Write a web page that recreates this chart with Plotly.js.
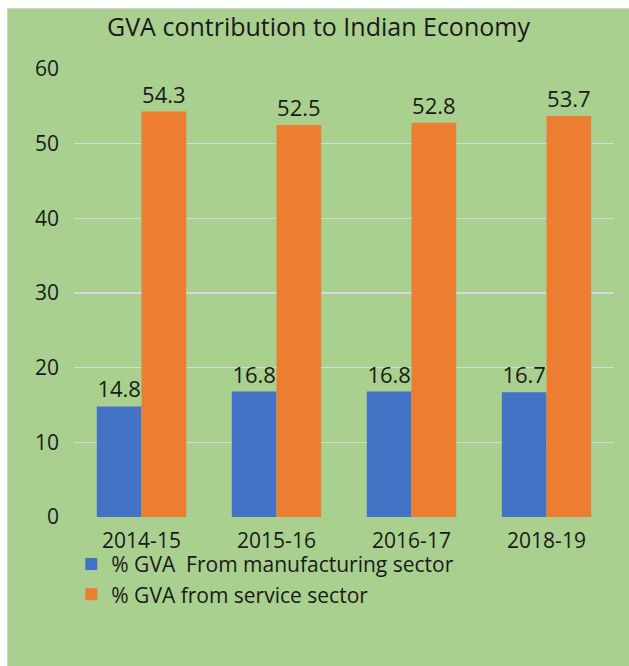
<!DOCTYPE html>
<html><head><meta charset="utf-8">
<script src="https://cdn.plot.ly/plotly-3.0.1.min.js"></script>
<style>
html,body{margin:0;padding:0;background:#fff;}
#wrap{position:absolute;left:7px;top:8px;width:622px;height:658px;border-left:1px solid #d0d0d0;border-top:1px solid #d0d0d0;box-sizing:border-box;}
#chart{width:621px;height:657px;}
</style></head>
<body><div id="wrap"><div id="chart"></div></div>
<script>
const categories = ["2014-15", "2015-16", "2016-17", "2018-19"];
const manufacturing = [14.8, 16.8, 16.8, 16.7];
const service = [54.3, 52.5, 52.8, 53.7];
const seriesNames = ["% GVA  From manufacturing sector", "% GVA from service sector"];
const yTicks = [0, 10, 20, 30, 40, 50, 60];

const font = "'Open Sans', 'Noto Sans', sans-serif";
const bg = "#A9D08E";
const ink = "#1a1a1a";
const traces = [
  {type:"bar", x:categories, y:manufacturing, name:seriesNames[0], marker:{color:"#4472C4"},
   text:manufacturing.map(v=>v.toFixed(1)), textposition:"outside", cliponaxis:false,
   textfont:{size:22,color:ink,family:font}},
  {type:"bar", x:categories, y:service, name:seriesNames[1], marker:{color:"#ED7D31"},
   text:service.map(v=>v.toFixed(1)), textposition:"outside", cliponaxis:false,
   textfont:{size:22,color:ink,family:font}}
];
const layout = {
  width:621, height:657,
  paper_bgcolor:bg, plot_bgcolor:bg,
  margin:{l:66, r:15, t:60, b:149},
  title:{text:"GVA contribution to Indian Economy", font:{size:25,color:ink,family:font}, x:0.5, xanchor:"center", y:0.973, yanchor:"middle"},
  barmode:"group", bargap:0.338, bargroupgap:0,
  font:{family:font,color:ink},
  xaxis:{tickfont:{size:21,color:ink}, showgrid:false, showline:false, ticks:"", ticklabelstandoff:9},
  yaxis:{range:[0,60], tickvals:yTicks, showgrid:true, gridcolor:"#D9D9D9", gridwidth:1.5,
    zeroline:true, zerolinecolor:bg, zerolinewidth:2, tickfont:{size:21,color:ink}, ticks:"", ticklabelstandoff:14},
  showlegend:true,
  legend:{orientation:"v", x:-0.005, xanchor:"left", y:-0.06, yanchor:"top", bgcolor:"rgba(0,0,0,0)",
    font:{size:21,color:ink,family:font}, itemwidth:30, traceorder:"normal"}
};
Plotly.newPlot("chart", traces, layout, {displayModeBar:false, staticPlot:true});
</script></body></html>
